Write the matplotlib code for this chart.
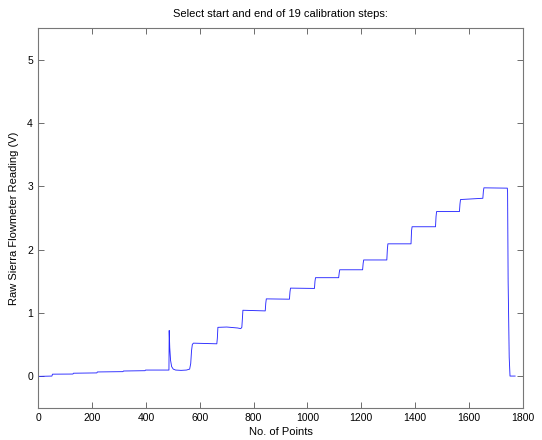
import numpy as np
import matplotlib
matplotlib.use('Agg')
import matplotlib.pyplot as plt

plt.rcParams['font.family'] = ['Liberation Sans', 'DejaVu Sans']

# raw flowmeter trace, vertices (sample index, volts)
pts_x = [0, 50, 52, 128, 130, 217, 219, 314, 316, 396, 398, 485,
         486, 488, 491, 495, 501, 510, 530, 550, 562, 566, 569, 572, 576,
         663, 665, 667, 700, 740, 752, 756, 758, 760, 843, 845, 847,
         933, 935, 937, 1026, 1028, 1030, 1116, 1118, 1120,
         1205, 1207, 1209, 1295, 1297, 1299, 1385, 1387, 1389,
         1476, 1478, 1480, 1565, 1567, 1569, 1652, 1654, 1656,
         1743, 1744, 1746, 1750, 1753, 1772]
pts_y = [-0.005, 0.0, 0.03, 0.032, 0.045, 0.05, 0.065, 0.07, 0.08, 0.085, 0.095, 0.095,
         0.72, 0.45, 0.25, 0.15, 0.11, 0.095, 0.09, 0.095, 0.11, 0.2, 0.4, 0.5, 0.52,
         0.51, 0.6, 0.77, 0.775, 0.76, 0.75, 0.77, 0.9, 1.04, 1.03, 1.15, 1.22,
         1.215, 1.33, 1.39, 1.385, 1.5, 1.555, 1.555, 1.63, 1.68,
         1.68, 1.78, 1.835, 1.835, 2.0, 2.09, 2.09, 2.3, 2.36,
         2.36, 2.52, 2.6, 2.6, 2.72, 2.79, 2.81, 2.92, 2.975,
         2.97, 2.9, 1.5, 0.3, 0.0, 0.0]

xticks = np.arange(0, 1801, 200)
yticks = [0, 1, 2, 3, 4, 5]

fig = plt.figure(figsize=(5.42, 4.40), dpi=100)
ax = fig.add_axes([0.071, 0.0734, 0.8933, 0.8628])
ax.plot(pts_x, pts_y, color='#2a2aff', lw=0.65)

ax.set_xlim(0, 1800)
ax.set_ylim(-0.5, 5.5)
ax.set_xticks(xticks)
ax.set_yticks(yticks)
ax.tick_params(direction='in', top=True, right=True, length=4, width=0.6,
               color='#555555', labelsize=7.5, pad=4)
for s in ax.spines.values():
    s.set_color('#777777')
    s.set_linewidth(0.8)

ax.set_xlabel('No. of Points', fontsize=8, labelpad=3)
ax.set_ylabel('Raw Sierra Flowmeter Reading (V)', fontsize=8, labelpad=6)
ax.set_title('Select start and end of 19 calibration steps:', fontsize=8, pad=8)

fig.savefig('out.png', dpi=100)
